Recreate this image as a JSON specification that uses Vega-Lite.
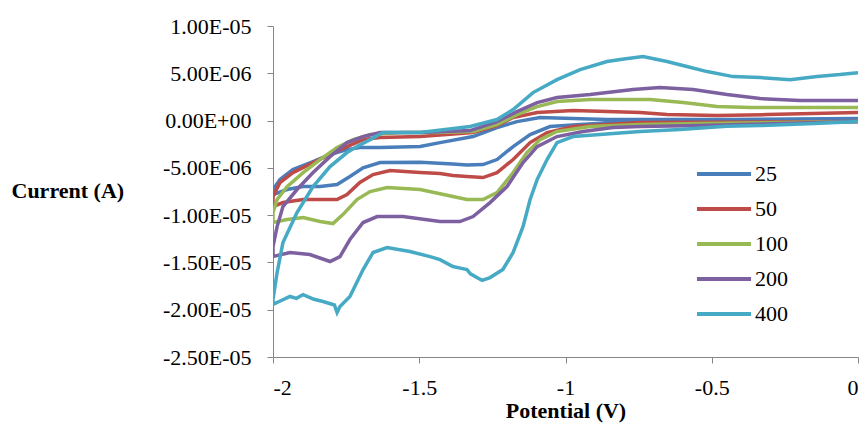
{
  "$schema": "https://vega.github.io/schema/vega-lite/v6.json",
  "width": 585,
  "height": 331,
  "autosize": "none",
  "padding": {"left": 273, "top": 26, "right": 10, "bottom": 66},
  "background": "white",
  "config": {"view": {"stroke": null}},
  "data": {"values": [
    {"rate":"25","V":0,"I":-0.11},{"rate":"25","V":-0.745,"I":-0.21},{"rate":"25","V":-0.838,"I":-0.21},{"rate":"25","V":-0.95,"I":-0.42},{"rate":"25","V":-1.053,"I":-0.63},{"rate":"25","V":-1.121,"I":-1.48},{"rate":"25","V":-1.179,"I":-2.75},{"rate":"25","V":-1.234,"I":-4.12},{"rate":"25","V":-1.282,"I":-4.65},{"rate":"25","V":-1.337,"I":-4.7},{"rate":"25","V":-1.385,"I":-4.6},{"rate":"25","V":-1.497,"I":-4.4},{"rate":"25","V":-1.634,"I":-4.44},{"rate":"25","V":-1.692,"I":-5.0},{"rate":"25","V":-1.737,"I":-5.92},{"rate":"25","V":-1.781,"I":-6.77},{"rate":"25","V":-1.839,"I":-6.98},{"rate":"25","V":-1.897,"I":-6.98},{"rate":"25","V":-1.952,"I":-7.29},{"rate":"25","V":-2,"I":-7.82},
    {"rate":"25","V":-2,"I":-7.29},{"rate":"25","V":-1.976,"I":-6.24},{"rate":"25","V":-1.932,"I":-5.18},{"rate":"25","V":-1.863,"I":-4.33},{"rate":"25","V":-1.805,"I":-3.59},{"rate":"25","V":-1.747,"I":-3.07},{"rate":"25","V":-1.703,"I":-2.85},{"rate":"25","V":-1.634,"I":-2.85},{"rate":"25","V":-1.497,"I":-2.75},{"rate":"25","V":-1.429,"I":-2.33},{"rate":"25","V":-1.316,"I":-1.69},{"rate":"25","V":-1.234,"I":-0.74},{"rate":"25","V":-1.166,"I":-0.11},{"rate":"25","V":-1.087,"I":0.32},{"rate":"25","V":-0.974,"I":0.21},{"rate":"25","V":-0.858,"I":0.11},{"rate":"25","V":-0.653,"I":0.11},{"rate":"25","V":-0.427,"I":0.11},{"rate":"25","V":0,"I":0.21},

    {"rate":"50","V":0,"I":-0.11},{"rate":"50","V":-0.745,"I":-0.21},{"rate":"50","V":-0.858,"I":-0.42},{"rate":"50","V":-0.974,"I":-0.63},{"rate":"50","V":-1.063,"I":-1.27},{"rate":"50","V":-1.121,"I":-2.33},{"rate":"50","V":-1.179,"I":-4.12},{"rate":"50","V":-1.234,"I":-5.5},{"rate":"50","V":-1.282,"I":-6.03},{"rate":"50","V":-1.337,"I":-5.92},{"rate":"50","V":-1.385,"I":-5.8},{"rate":"50","V":-1.429,"I":-5.6},{"rate":"50","V":-1.497,"I":-5.5},{"rate":"50","V":-1.6,"I":-5.29},{"rate":"50","V":-1.658,"I":-5.71},{"rate":"50","V":-1.703,"I":-6.55},{"rate":"50","V":-1.747,"I":-7.82},{"rate":"50","V":-1.781,"I":-8.35},{"rate":"50","V":-1.839,"I":-8.35},{"rate":"50","V":-1.897,"I":-8.35},{"rate":"50","V":-1.966,"I":-8.67},{"rate":"50","V":-2,"I":-9.09},
    {"rate":"50","V":-2,"I":-8.03},{"rate":"50","V":-1.976,"I":-6.55},{"rate":"50","V":-1.932,"I":-5.5},{"rate":"50","V":-1.863,"I":-4.44},{"rate":"50","V":-1.805,"I":-3.59},{"rate":"50","V":-1.747,"I":-2.75},{"rate":"50","V":-1.692,"I":-2.01},{"rate":"50","V":-1.634,"I":-1.8},{"rate":"50","V":-1.497,"I":-1.69},{"rate":"50","V":-1.316,"I":-1.27},{"rate":"50","V":-1.234,"I":-0.53},{"rate":"50","V":-1.179,"I":0.32},{"rate":"50","V":-1.097,"I":0.85},{"rate":"50","V":-0.974,"I":1.06},{"rate":"50","V":-0.858,"I":0.95},{"rate":"50","V":-0.745,"I":0.85},{"rate":"50","V":-0.653,"I":0.63},{"rate":"50","V":-0.482,"I":0.53},{"rate":"50","V":-0.311,"I":0.63},{"rate":"50","V":0,"I":0.85},

    {"rate":"100","V":0,"I":-0.11},{"rate":"100","V":-0.54,"I":-0.32},{"rate":"100","V":-0.745,"I":-0.42},{"rate":"100","V":-0.916,"I":-0.63},{"rate":"100","V":-1.029,"I":-1.16},{"rate":"100","V":-1.087,"I":-2.01},{"rate":"100","V":-1.132,"I":-3.38},{"rate":"100","V":-1.179,"I":-5.5},{"rate":"100","V":-1.234,"I":-7.61},{"rate":"100","V":-1.282,"I":-8.35},{"rate":"100","V":-1.337,"I":-8.35},{"rate":"100","V":-1.385,"I":-8.03},{"rate":"100","V":-1.497,"I":-7.29},{"rate":"100","V":-1.61,"I":-7.08},{"rate":"100","V":-1.668,"I":-7.51},{"rate":"100","V":-1.713,"I":-8.35},{"rate":"100","V":-1.761,"I":-9.94},{"rate":"100","V":-1.795,"I":-10.89},{"rate":"100","V":-1.839,"I":-10.68},{"rate":"100","V":-1.897,"I":-10.25},{"rate":"100","V":-1.952,"I":-10.47},{"rate":"100","V":-2,"I":-10.78},
    {"rate":"100","V":-2,"I":-9.73},{"rate":"100","V":-1.986,"I":-8.35},{"rate":"100","V":-1.952,"I":-6.98},{"rate":"100","V":-1.897,"I":-5.5},{"rate":"100","V":-1.839,"I":-4.12},{"rate":"100","V":-1.781,"I":-2.85},{"rate":"100","V":-1.726,"I":-2.01},{"rate":"100","V":-1.668,"I":-1.48},{"rate":"100","V":-1.556,"I":-1.27},{"rate":"100","V":-1.439,"I":-1.27},{"rate":"100","V":-1.316,"I":-1.16},{"rate":"100","V":-1.234,"I":-0.42},{"rate":"100","V":-1.166,"I":0.63},{"rate":"100","V":-1.097,"I":1.48},{"rate":"100","V":-1.029,"I":2.01},{"rate":"100","V":-0.916,"I":2.22},{"rate":"100","V":-0.711,"I":2.22},{"rate":"100","V":-0.598,"I":1.9},{"rate":"100","V":-0.482,"I":1.48},{"rate":"100","V":-0.369,"I":1.37},{"rate":"100","V":0,"I":1.37},

    {"rate":"200","V":0,"I":-0.11},{"rate":"200","V":-0.54,"I":-0.53},{"rate":"200","V":-0.745,"I":-0.63},{"rate":"200","V":-0.838,"I":-0.74},{"rate":"200","V":-0.94,"I":-1.16},{"rate":"200","V":-1.029,"I":-1.69},{"rate":"200","V":-1.097,"I":-2.75},{"rate":"200","V":-1.145,"I":-4.44},{"rate":"200","V":-1.2,"I":-6.98},{"rate":"200","V":-1.258,"I":-8.67},{"rate":"200","V":-1.316,"I":-10.15},{"rate":"200","V":-1.361,"I":-10.68},{"rate":"200","V":-1.429,"I":-10.68},{"rate":"200","V":-1.556,"I":-10.15},{"rate":"200","V":-1.644,"I":-10.15},{"rate":"200","V":-1.692,"I":-10.78},{"rate":"200","V":-1.737,"I":-12.58},{"rate":"200","V":-1.771,"I":-14.38},{"rate":"200","V":-1.805,"I":-14.9},{"rate":"200","V":-1.874,"I":-14.16},{"rate":"200","V":-1.942,"I":-13.95},{"rate":"200","V":-2,"I":-14.38},
    {"rate":"200","V":-2,"I":-13.32},{"rate":"200","V":-1.986,"I":-11.21},{"rate":"200","V":-1.966,"I":-9.09},{"rate":"200","V":-1.918,"I":-7.29},{"rate":"200","V":-1.863,"I":-5.5},{"rate":"200","V":-1.805,"I":-3.81},{"rate":"200","V":-1.747,"I":-2.33},{"rate":"200","V":-1.692,"I":-1.69},{"rate":"200","V":-1.634,"I":-1.27},{"rate":"200","V":-1.497,"I":-1.27},{"rate":"200","V":-1.326,"I":-1.06},{"rate":"200","V":-1.234,"I":-0.11},{"rate":"200","V":-1.166,"I":0.95},{"rate":"200","V":-1.097,"I":1.9},{"rate":"200","V":-1.029,"I":2.43},{"rate":"200","V":-0.916,"I":2.75},{"rate":"200","V":-0.769,"I":3.28},{"rate":"200","V":-0.677,"I":3.49},{"rate":"200","V":-0.564,"I":3.28},{"rate":"200","V":-0.448,"I":2.75},{"rate":"200","V":-0.335,"I":2.33},{"rate":"200","V":-0.198,"I":2.11},{"rate":"200","V":0,"I":2.11},

    {"rate":"400","V":0,"I":-0.11},{"rate":"400","V":-0.15,"I":-0.3},{"rate":"400","V":-0.335,"I":-0.53},{"rate":"400","V":-0.45,"I":-0.6},{"rate":"400","V":-0.609,"I":-0.95},{"rate":"400","V":-0.745,"I":-1.16},{"rate":"400","V":-0.882,"I":-1.48},{"rate":"400","V":-0.974,"I":-1.69},{"rate":"400","V":-1.029,"I":-2.33},{"rate":"400","V":-1.063,"I":-4.12},{"rate":"400","V":-1.097,"I":-6.24},{"rate":"400","V":-1.121,"I":-8.35},{"rate":"400","V":-1.145,"I":-11.2},{"rate":"400","V":-1.179,"I":-13.95},{"rate":"400","V":-1.214,"I":-15.75},{"rate":"400","V":-1.258,"I":-16.6},{"rate":"400","V":-1.285,"I":-16.9},{"rate":"400","V":-1.303,"I":-16.6},{"rate":"400","V":-1.325,"I":-16.2},{"rate":"400","V":-1.337,"I":-15.75},{"rate":"400","V":-1.36,"I":-15.6},{"rate":"400","V":-1.385,"I":-15.43},{"rate":"400","V":-1.429,"I":-14.7},{"rate":"400","V":-1.463,"I":-14.38},{"rate":"400","V":-1.532,"I":-13.85},{"rate":"400","V":-1.61,"I":-13.42},{"rate":"400","V":-1.658,"I":-13.95},{"rate":"400","V":-1.692,"I":-15.75},{"rate":"400","V":-1.737,"I":-18.6},{"rate":"400","V":-1.771,"I":-19.66},{"rate":"400","V":-1.781,"I":-20.3},{"rate":"400","V":-1.79,"I":-19.5},{"rate":"400","V":-1.829,"I":-19.13},{"rate":"400","V":-1.86,"I":-18.9},{"rate":"400","V":-1.897,"I":-18.4},{"rate":"400","V":-1.92,"I":-18.8},{"rate":"400","V":-1.942,"I":-18.6},{"rate":"400","V":-1.986,"I":-19.24},{"rate":"400","V":-2,"I":-19.45},
    {"rate":"400","V":-2,"I":-18.92},{"rate":"400","V":-1.986,"I":-16.07},{"rate":"400","V":-1.966,"I":-12.9},{"rate":"400","V":-1.918,"I":-9.73},{"rate":"400","V":-1.863,"I":-6.98},{"rate":"400","V":-1.805,"I":-4.86},{"rate":"400","V":-1.747,"I":-3.38},{"rate":"400","V":-1.713,"I":-2.75},{"rate":"400","V":-1.668,"I":-2.01},{"rate":"400","V":-1.624,"I":-1.27},{"rate":"400","V":-1.497,"I":-1.27},{"rate":"400","V":-1.326,"I":-0.63},{"rate":"400","V":-1.234,"I":0.11},{"rate":"400","V":-1.179,"I":1.16},{"rate":"400","V":-1.111,"I":2.96},{"rate":"400","V":-1.029,"I":4.33},{"rate":"400","V":-0.95,"I":5.39},{"rate":"400","V":-0.858,"I":6.24},{"rate":"400","V":-0.8,"I":6.5},{"rate":"400","V":-0.735,"I":6.77},{"rate":"400","V":-0.653,"I":6.24},{"rate":"400","V":-0.585,"I":5.71},{"rate":"400","V":-0.516,"I":5.18},{"rate":"400","V":-0.427,"I":4.65},{"rate":"400","V":-0.335,"I":4.55},{"rate":"400","V":-0.232,"I":4.33},{"rate":"400","V":-0.14,"I":4.65},{"rate":"400","V":-0.062,"I":4.86},{"rate":"400","V":0,"I":5.07}
  ]},
  "mark": {"type": "line", "strokeWidth": 3.5, "clip": true},
  "encoding": {
    "x": {"field": "V", "type": "quantitative",
      "scale": {"domain": [-2, 0], "nice": false, "zero": false},
      "axis": {"values": [-2, -1.5, -1, -0.5, 0], "grid": false,
        "labelExpr": "datum.value == 0 ? '0' : '-' + format(abs(datum.value), '~g')",
        "labelFont": "Times New Roman", "labelFontSize": 22, "labelColor": "black", "labelPadding": 14,
        "domainColor": "#868686", "tickColor": "#868686", "tickSize": 6,
        "title": "Potential (V)", "titleFont": "Times New Roman", "titleFontSize": 22, "titleFontWeight": "bold", "titleColor": "black",
        "titleY": 53, "titleBaseline": "middle"}},
    "y": {"field": "I", "type": "quantitative",
      "scale": {"domain": [-25, 10], "nice": false, "zero": false},
      "axis": {"values": [-25, -20, -15, -10, -5, 0, 5, 10], "grid": false,
        "labelExpr": "(datum.value < 0 ? '-' : '') + replace(replace(format(abs(datum.value) * 1e-6, '.2e'), 'e-', 'E-0'), 'e+', 'E+0')",
        "labelFont": "Times New Roman", "labelFontSize": 22, "labelColor": "black", "labelPadding": 16,
        "domainColor": "#868686", "tickColor": "#868686", "tickSize": 6,
        "title": "Current  (A)", "titleFont": "Times New Roman", "titleFontSize": 22, "titleFontWeight": "bold", "titleColor": "black",
        "titleAngle": 0, "titleAlign": "left", "titleBaseline": "middle", "titleX": -262, "titleY": 164}},
    "color": {"field": "rate", "type": "nominal",
      "scale": {"domain": ["25", "50", "100", "200", "400"], "range": ["#4A7EBB", "#BE4B48", "#98B954", "#7D60A0", "#46AAC5"]},
      "legend": {"orient": "none", "legendX": 435, "legendY": 132, "title": null,
        "symbolType": "M-2,0H2", "symbolSize": 730, "symbolStrokeWidth": 4,
        "labelFont": "Times New Roman", "labelFontSize": 22, "labelColor": "black", "labelOffset": 15, "rowPadding": 8}},
    "order": {"value": null}
  }
}
